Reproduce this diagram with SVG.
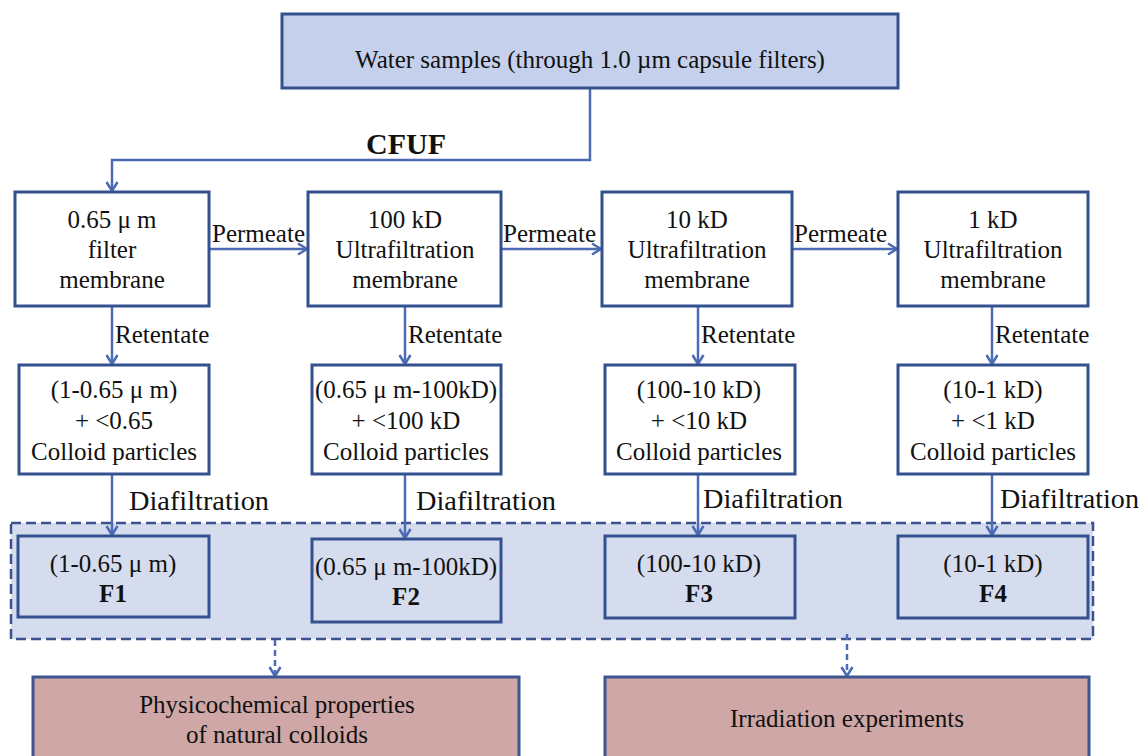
<svg xmlns="http://www.w3.org/2000/svg" width="1142" height="756" viewBox="0 0 1142 756" font-family="'Liberation Serif', 'DejaVu Serif', serif">
<defs>
<marker id="arr" markerUnits="userSpaceOnUse" markerWidth="14" markerHeight="14" refX="11" refY="7" orient="auto">
<path d="M2,1.5 L11,7 L2,12.5" fill="none" stroke="#4d6bb5" stroke-width="2.5"/>
</marker>
<style>
text{font-family:'Liberation Serif','DejaVu Serif',serif;font-size:25px;fill:#111;text-anchor:middle}
.lbl{text-anchor:start}
.b{font-weight:bold}
.box{fill:#fff;stroke:#34508f;stroke-width:3}
.top{fill:#c4d0ec;stroke:#34508f;stroke-width:3}
.fbox{fill:#d5dcee;stroke:#34508f;stroke-width:3}
.res{fill:#cfa7a7;stroke:#3e5590;stroke-width:3}
.con{fill:none;stroke:#4d6bb5;stroke-width:2.5}
.dash{fill:none;stroke:#4d6bb5;stroke-width:2.5;stroke-dasharray:6 4}
</style>
</defs>
<rect x="0" y="0" width="1142" height="756" fill="#fff"/>

<g id="container">
<rect x="11" y="523" width="1082" height="116" fill="#d5dcee" stroke="#3a5290" stroke-width="2.5" stroke-dasharray="10 5"/>
</g>

<g id="connectors">
<path class="con" d="M590,88 V160 H112 V191" marker-end="url(#arr)"/>
<path class="con" d="M209,249 H307" marker-end="url(#arr)"/>
<path class="con" d="M501,249 H601" marker-end="url(#arr)"/>
<path class="con" d="M792,249 H897" marker-end="url(#arr)"/>
<path class="con" d="M112,306 V364" marker-end="url(#arr)"/>
<path class="con" d="M405,306 V364" marker-end="url(#arr)"/>
<path class="con" d="M698,306 V364" marker-end="url(#arr)"/>
<path class="con" d="M992,306 V364" marker-end="url(#arr)"/>
<path class="con" d="M112,474 V535" marker-end="url(#arr)"/>
<path class="con" d="M405,474 V538" marker-end="url(#arr)"/>
<path class="con" d="M698,474 V535" marker-end="url(#arr)"/>
<path class="con" d="M992,474 V535" marker-end="url(#arr)"/>
<path class="dash" d="M275,640 V676" marker-end="url(#arr)"/>
<path class="dash" d="M847,634 V676" marker-end="url(#arr)"/>
<text class="b" x="406" y="154" style="font-size:30px">CFUF</text>
<text class="lbl" x="212" y="242">Permeate</text>
<text class="lbl" x="503" y="242">Permeate</text>
<text class="lbl" x="794" y="242">Permeate</text>
<text class="lbl" x="115" y="343">Retentate</text>
<text class="lbl" x="408" y="343">Retentate</text>
<text class="lbl" x="701" y="343">Retentate</text>
<text class="lbl" x="995" y="343">Retentate</text>
<text class="lbl" x="129" y="510" style="font-size:27px" textLength="140" lengthAdjust="spacingAndGlyphs">Diafiltration</text>
<text class="lbl" x="416" y="510" style="font-size:27px" textLength="140" lengthAdjust="spacingAndGlyphs">Diafiltration</text>
<text class="lbl" x="703" y="508" style="font-size:27px" textLength="140" lengthAdjust="spacingAndGlyphs">Diafiltration</text>
<text class="lbl" x="1000" y="508" style="font-size:27px" textLength="139" lengthAdjust="spacingAndGlyphs">Diafiltration</text>
</g>

<g id="water">
<rect class="top" x="282" y="14" width="616" height="74"/>
<text x="590" y="68">Water samples (through 1.0 µm capsule filters)</text>
</g>

<g id="m065">
<rect class="box" x="15" y="192" width="194" height="114"/>
<text x="112" y="228">0.65 μ m</text>
<text x="112" y="258">filter</text>
<text x="112" y="288">membrane</text>
</g>
<g id="m100">
<rect class="box" x="308" y="192" width="193" height="114"/>
<text x="405" y="228">100 kD</text>
<text x="405" y="258">Ultrafiltration</text>
<text x="405" y="288">membrane</text>
</g>
<g id="m10">
<rect class="box" x="602" y="192" width="190" height="114"/>
<text x="697" y="228">10 kD</text>
<text x="697" y="258">Ultrafiltration</text>
<text x="697" y="288">membrane</text>
</g>
<g id="m1">
<rect class="box" x="898" y="192" width="190" height="114"/>
<text x="993" y="228">1 kD</text>
<text x="993" y="258">Ultrafiltration</text>
<text x="993" y="288">membrane</text>
</g>

<g id="r1">
<rect class="box" x="19" y="365" width="190" height="109"/>
<text x="114" y="398">(1-0.65 μ m)</text>
<text x="114" y="429">+ &lt;0.65</text>
<text x="114" y="460">Colloid particles</text>
</g>
<g id="r2">
<rect class="box" x="312" y="365" width="189" height="109"/>
<text x="406" y="398">(0.65 μ m-100kD)</text>
<text x="406" y="429">+ &lt;100 kD</text>
<text x="406" y="460">Colloid particles</text>
</g>
<g id="r3">
<rect class="box" x="605" y="365" width="190" height="109"/>
<text x="699" y="398">(100-10 kD)</text>
<text x="699" y="429">+ &lt;10 kD</text>
<text x="699" y="460">Colloid particles</text>
</g>
<g id="r4">
<rect class="box" x="898" y="365" width="190" height="109"/>
<text x="993" y="398">(10-1 kD)</text>
<text x="993" y="429">+ &lt;1 kD</text>
<text x="993" y="460">Colloid particles</text>
</g>

<g id="f1">
<rect class="fbox" x="18" y="536" width="191" height="81"/>
<text x="113" y="572">(1-0.65 μ m)</text>
<text class="b" x="113" y="602">F1</text>
</g>
<g id="f2">
<rect class="fbox" x="312" y="539" width="189" height="83"/>
<text x="406" y="575">(0.65 μ m-100kD)</text>
<text class="b" x="406" y="605">F2</text>
</g>
<g id="f3">
<rect class="fbox" x="605" y="536" width="190" height="82"/>
<text x="699" y="572">(100-10 kD)</text>
<text class="b" x="699" y="602">F3</text>
</g>
<g id="f4">
<rect class="fbox" x="898" y="536" width="190" height="82"/>
<text x="993" y="572">(10-1 kD)</text>
<text class="b" x="993" y="602">F4</text>
</g>

<g id="phys">
<rect class="res" x="33" y="677" width="486" height="100"/>
<text x="277" y="713">Physicochemical properties</text>
<text x="277" y="743">of natural colloids</text>
</g>
<g id="irr">
<rect class="res" x="605" y="677" width="484" height="100"/>
<text x="847" y="727">Irradiation experiments</text>
</g>
</svg>
